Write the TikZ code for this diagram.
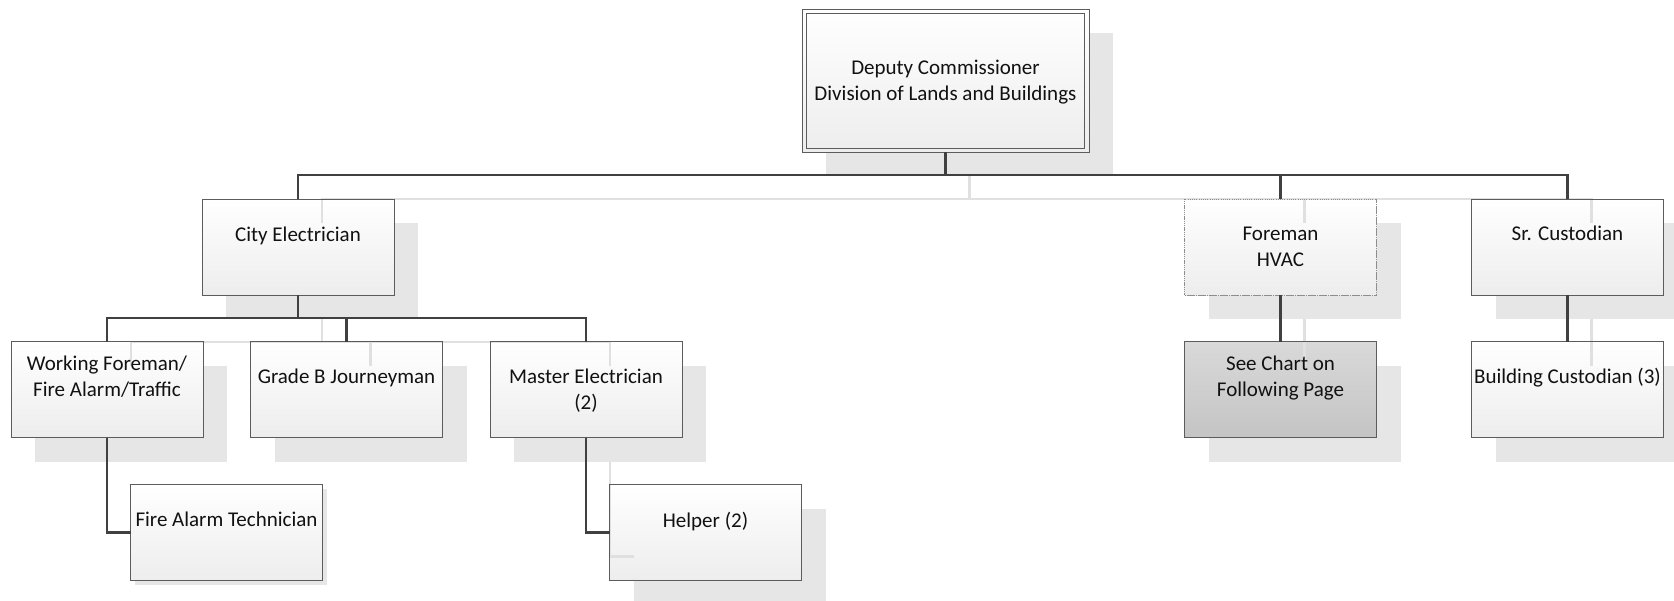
\documentclass[tikz,border=0pt]{standalone}
\usepackage{fontspec}
\setmainfont{Carlito}
\usetikzlibrary{calc}
\definecolor{bordc}{HTML}{5C5C5C}
\definecolor{connc}{HTML}{404040}
\definecolor{shadc}{HTML}{E6E6E6}
\definecolor{lightc}{HTML}{E0E0E0}
\definecolor{boxbot}{HTML}{EDEDED}
\definecolor{seetop}{HTML}{D9D9D9}
\definecolor{seebot}{HTML}{C4C4C4}
\definecolor{txtc}{HTML}{111111}
\pgfdeclarelayer{bg}
\pgfsetlayers{bg,main}
\begin{document}
\begin{tikzpicture}[x=1pt,y=-1pt,
  orgbox/.style={draw=bordc, line width=0.9pt, top color=white, bottom color=boxbot,
    minimum width=192pt, minimum height=96pt, inner sep=0pt, outer sep=0pt},
  seebox/.style={orgbox, top color=seetop, bottom color=seebot},
  dotline/.style={draw=bordc!70, line width=0.7pt, dash pattern=on 1pt off 1.2pt},
  dotbox/.style={orgbox, dotline},
  rim/.style={draw=bordc, line width=0.9pt},
  conn/.style={draw=connc, line width=2.4pt},
  shconn/.style={draw=lightc, line width=2.4pt},
  lbl/.style={font=\fontsize{21}{26}\selectfont, align=center, anchor=base, inner sep=0pt, text=txtc}
]
\useasboundingbox (0,0) rectangle (1674,600);
\clip (0,0) rectangle (1674,600);

% boxes
\node[orgbox, minimum width=287pt, minimum height=143pt] (dep) at (945.5,80.5) {};
\node[orgbox] (ce) at (298,247) {};
\node[dotbox] (fm) at (1280.5,247) {};
\node[orgbox] (sc) at (1567.5,247) {};
\node[orgbox] (wf) at (107,389.5) {};
\node[orgbox] (gb) at (346.5,389.5) {};
\node[orgbox] (me) at (586,389.5) {};
\node[seebox] (see) at (1280.5,389.5) {};
\node[orgbox] (bc) at (1567.5,389.5) {};
\node[orgbox] (fat) at (226.5,532.5) {};
\node[orgbox] (hp) at (705.5,532.5) {};

% shadows
\begin{pgfonlayer}{bg}
\foreach \n in {dep,ce,fm,sc,wf,gb,me,see,bc,hp}
  \fill[shadc] ($(\n.north west)+(24,24)$) rectangle ($(\n.south east)+(24,24)$);
\fill[shadc] ($(fat.north west)+(4,4)$) rectangle ($(fat.south east)+(4,4)$);
\end{pgfonlayer}

% bus points
\coordinate (b1) at ($(dep.south)+(0,23)$);
\coordinate (b2) at ($(ce.south)+(0,23)$);

% connector shadows
\begin{scope}[transform canvas={shift={(24pt,-24pt)}}]
\draw[shconn] (dep.south) -- (b1);
\draw[shconn] (ce.north) |- (b1) -| (sc.north);
\draw[shconn] (fm.north) -- (fm.north |- b1);
\draw[shconn] (ce.south) -- (b2);
\draw[shconn] (wf.north) |- (b2) -| (me.north);
\draw[shconn] (gb.north) -- (gb.north |- b2);
\draw[shconn] (me.south) |- (hp.west);
\draw[shconn] (fm.south) -- (see.north);
\draw[shconn] (sc.south) -- (bc.north);
\end{scope}

% box rims over the connector shadows
\foreach \n in {dep,ce,sc,wf,gb,me,see,bc,fat,hp}
  \draw[rim] (\n.north west) rectangle (\n.south east);
\draw[dotline] (fm.north west) rectangle (fm.south east);
\draw[rim] ($(dep.north west)+(4,4)$) rectangle ($(dep.south east)+(-5,-4)$);

% connectors
\draw[conn] (dep.south) -- (b1);
\draw[conn] (ce.north) |- (b1) -| (sc.north);
\draw[conn] (fm.north) -- (fm.north |- b1);
\draw[conn] (ce.south) -- (b2);
\draw[conn] (wf.north) |- (b2) -| (me.north);
\draw[conn] (gb.north) -- (gb.north |- b2);
\draw[conn] (wf.south) |- (fat.west);
\draw[conn] (me.south) |- (hp.west);
\draw[conn] (fm.south) -- (see.north);
\draw[conn] (sc.south) -- (bc.north);

% labels (anchor = baseline of last line)
\node[lbl] (dep-t) at (945.5,100) {Deputy Commissioner\\Division of Lands and Buildings};
\node[lbl] (ce-t) at (298,241) {City Electrician};
\node[lbl] (fm-t) at (1280.5,266) {Foreman\\HVAC};
\node[lbl] (sc-t) at (1567.5,240) {Sr. Custodian};
\node[lbl] (wf-t) at (107,396) {Working Foreman/\\Fire Alarm/Traffic};
\node[lbl] (gb-t) at (346.5,383) {Grade B Journeyman};
\node[lbl] (me-t) at (586,409) {Master Electrician\\(2)};
\node[lbl] (see-t) at (1280.5,396) {See Chart on\\Following Page};
\node[lbl] (bc-t) at (1567.5,383) {Building Custodian (3)};
\node[lbl] (fat-t) at (226.5,526) {Fire Alarm Technician};
\node[lbl] (hp-t) at (705.5,527) {Helper (2)};
\end{tikzpicture}
\end{document}
